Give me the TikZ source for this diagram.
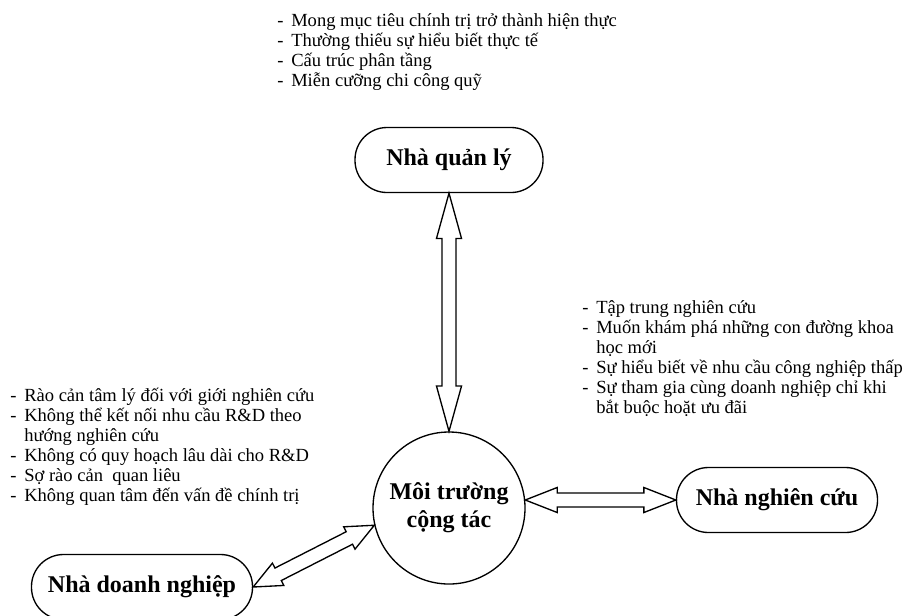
\documentclass[tikz,border=0pt]{standalone}
\usepackage{fontspec}
\setmainfont{Liberation Serif}
\usetikzlibrary{calc}

\newcommand{\itm}{\makebox[10.5pt][l]{-}}
\newcommand{\ind}{\hspace*{10.5pt}}
% hollow double arrow between two points, #1 = head length
\newcommand{\fatarrow}[3][24pt]{%
  \coordinate (ha) at ($(#2)!#1!(#3)$);
  \coordinate (hb) at ($(#3)!#1!(#2)$);
  \draw[fat] (#2) -- ($(ha)!9.4pt!-90:(#3)$) -- ($(ha)!5.25pt!-90:(#3)$)
    -- ($(hb)!5.25pt!90:(#2)$) -- ($(hb)!9.4pt!90:(#2)$) -- (#3)
    -- ($(hb)!9.4pt!-90:(#2)$) -- ($(hb)!5.25pt!-90:(#2)$)
    -- ($(ha)!5.25pt!90:(#3)$) -- ($(ha)!9.4pt!90:(#3)$) -- cycle;
}

\begin{document}
\begin{tikzpicture}[
    x=0.75pt, y=-0.75pt,
    actor/.style={rectangle, draw, line width=1pt, rounded corners=24pt, minimum height=48.75pt, inner sep=0pt, font=\fontsize{18}{21}\selectfont\bfseries},
    hub/.style={circle, draw, line width=1pt, minimum size=114pt, inner sep=0pt, align=center, font=\fontsize{18}{21}\selectfont\bfseries},
    notes/.style={anchor=north west, align=left, inner sep=0pt, font=\fontsize{13.9}{15}\selectfont},
    fat/.style={draw, line width=1pt, fill=white, line join=miter}
]
\useasboundingbox (0,0) rectangle (905,615);

% Cac tac nhan
\node[actor, minimum width=141pt] (mq) at (449,160) {Nhà quản lý};
\node[hub] (mt) at (449,508) {Môi trường\\cộng tác};
\node[actor, minimum width=150.75pt] (nc) at (777,500) {Nhà nghiên cứu};
\node[actor, minimum width=165.75pt] (dn) at (142,587) {Nhà doanh nghiệp};

% Ghi chu
\node[notes] (ghiMQ) at (277,13) {\itm Mong mục tiêu chính trị trở thành hiện thực\\
  \itm Thường thiếu sự hiểu biết thực tế\\
  \itm Cấu trúc phân tầng\\
  \itm Miễn cưỡng chi công quỹ};
\node[notes] (ghiNC) at (582,300) {\itm Tập trung nghiên cứu\\
  \itm Muốn khám phá những con đường khoa\\
  \ind học mới\\
  \itm Sự hiểu biết về nhu cầu công nghiệp thấp\\
  \itm Sự tham gia cùng doanh nghiệp chỉ khi\\
  \ind bắt buộc hoặt ưu đãi};
\node[notes] (ghiDN) at (10,388) {\itm Rào cản tâm lý đối với giới nghiên cứu\\
  \itm Không thể kết nối nhu cầu R\&D theo\\
  \ind hướng nghiên cứu\\
  \itm Không có quy hoạch lâu dài cho R\&D\\
  \itm Sợ rào cản\ \ quan liêu\\
  \itm Không quan tâm đến vấn đề chính trị};

% Mui ten hai chieu
\fatarrow[34pt]{mq.south}{mt.north}
\fatarrow{mt.6}{nc.west}
\fatarrow[21pt]{dn.east}{mt.193}

\end{tikzpicture}
\end{document}
